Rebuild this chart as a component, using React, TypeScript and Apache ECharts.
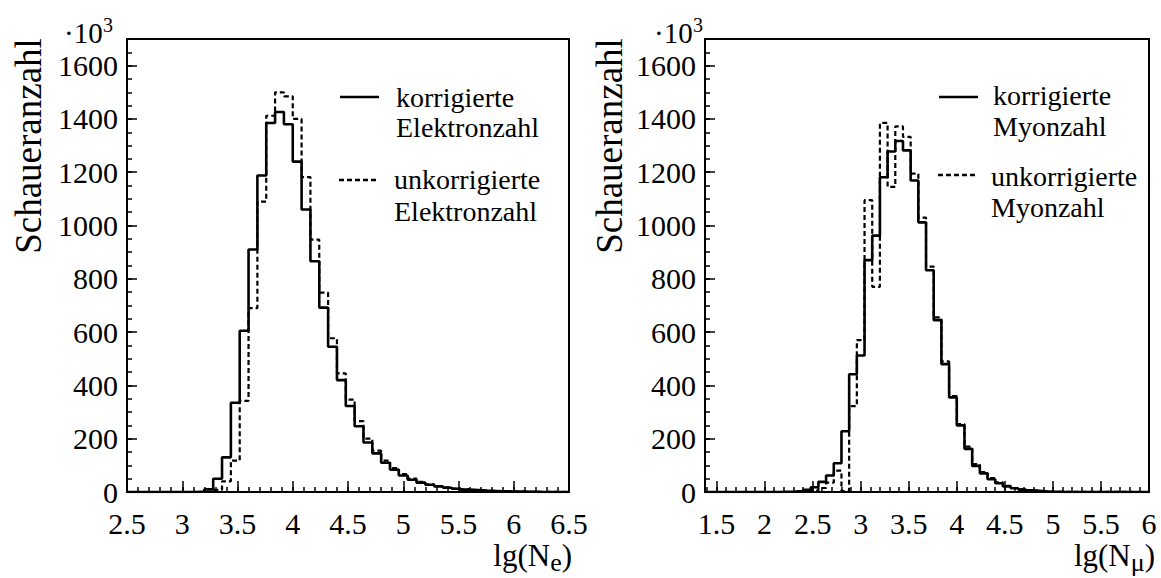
import { useEffect, useRef } from 'react';
import * as echarts from 'echarts';

// ---- data (bin width 0.08 in lg units) ----
const binWidth = 0.08;

// Left panel: lg(Ne), bins starting at 3.12
const leftBinStart = 3.12;
const leftCorrected = [2, 10, 50, 130, 335, 605, 910, 1188, 1385, 1426, 1380, 1240, 1060, 866, 692, 545, 420, 323, 247, 186, 145, 110, 84, 62, 46, 35, 27, 21, 16, 12, 9, 7, 5, 4, 3, 2, 1.5, 1, 0.5];
const leftUncorrected = [0, 2, 8, 40, 118, 342, 690, 1090, 1412, 1500, 1485, 1400, 1182, 947, 748, 577, 445, 347, 266, 200, 155, 118, 90, 67, 50, 38, 29, 22, 17, 13, 10, 7, 5, 4, 3, 2, 1.5, 1, 0.5];

// Right panel: lg(Nmu), bins starting at 2.16
const rightBinStart = 2.16;
const rightCorrected = [1, 2, 4, 8, 18, 38, 62, 108, 228, 442, 512, 870, 962, 1181, 1278, 1317, 1282, 1169, 1012, 832, 645, 480, 355, 250, 162, 98, 70, 48, 33, 21, 14, 9, 6, 4, 2, 1, 0.5];
const rightUncorrected = [0, 0, 1, 2, 5, 15, 35, 80, 3, 322, 570, 1095, 770, 1385, 1145, 1372, 1333, 1195, 1030, 846, 655, 490, 360, 255, 170, 105, 75, 52, 36, 23, 15, 10, 6, 4, 2, 1, 0.5];

const leftXRange = [2.5, 6.5];
const rightXRange = [1.38, 6.0];
const yRange = [0, 1700];
const leftXTicks = [2.5, 3, 3.5, 4, 4.5, 5, 5.5, 6, 6.5];
const rightXTicks = [1.5, 2, 2.5, 3, 3.5, 4, 4.5, 5, 5.5, 6];
const yTicks = [0, 200, 400, 600, 800, 1000, 1200, 1400, 1600];
const xMinorStep = 0.1;
const yMinorStep = 50;

const legendLeft = ['korrigierte', 'Elektronzahl', 'unkorrigierte', 'Elektronzahl'];
const legendRight = ['korrigierte', 'Myonzahl', 'unkorrigierte', 'Myonzahl'];
const yTitle = 'Schaueranzahl';

const FONT = 'Liberation Serif, DejaVu Serif, serif';

function stepPoints(start: number, vals: number[], xmin: number, xmax: number) {
  const pts: number[][] = [[xmin, 0]];
  vals.forEach((v, i) => pts.push([+(start + i * binWidth).toFixed(3), v]));
  pts.push([+(start + vals.length * binWidth).toFixed(3), 0]);
  pts.push([xmax, 0]);
  return pts;
}

function range(a: number, b: number, step: number) {
  const out: number[] = [];
  for (let k = Math.ceil(a / step - 1e-9); k * step <= b + 1e-9; k++) out.push(+(k * step).toFixed(3));
  return out;
}

const plain = (v: number) => String(v);

function xAxes(gi: number, r: number[], majors: number[]) {
  return [
    {
      gridIndex: gi, type: 'value', min: r[0], max: r[1], position: 'bottom',
      axisLine: { show: true, lineStyle: { color: '#000', width: 2 } },
      axisTick: { show: true, inside: true, length: 11, customValues: majors, lineStyle: { color: '#000', width: 1.5 } },
      axisLabel: { show: true, customValues: majors, formatter: plain, color: '#000', fontFamily: FONT, fontSize: 30, margin: 16 },
      splitLine: { show: false },
    },
    {
      gridIndex: gi, type: 'value', min: r[0], max: r[1], position: 'bottom',
      axisLine: { show: false },
      axisTick: { show: true, inside: true, length: 5, customValues: range(r[0], r[1], xMinorStep), lineStyle: { color: '#000', width: 1.5 } },
      axisLabel: { show: false },
      splitLine: { show: false },
    },
  ];
}

function yAxes(gi: number) {
  return [
    {
      gridIndex: gi, type: 'value', min: yRange[0], max: yRange[1], position: 'left',
      axisLine: { show: true, lineStyle: { color: '#000', width: 2 } },
      axisTick: { show: true, inside: true, length: 10, customValues: yTicks, lineStyle: { color: '#000', width: 1.5 } },
      axisLabel: { show: true, customValues: yTicks, formatter: plain, color: '#000', fontFamily: FONT, fontSize: 30, margin: 9 },
      splitLine: { show: false },
    },
    {
      gridIndex: gi, type: 'value', min: yRange[0], max: yRange[1], position: 'left',
      axisLine: { show: false },
      axisTick: { show: true, inside: true, length: 5, customValues: range(yRange[0], yRange[1], yMinorStep), lineStyle: { color: '#000', width: 1.5 } },
      axisLabel: { show: false },
      splitLine: { show: false },
    },
  ];
}

function txt(x: number, y: number, text: string, size: number) {
  return {
    type: 'text', x, y, silent: true,
    style: { text, fill: '#000', fontFamily: FONT, fontSize: size, textAlign: 'left', textVerticalAlign: 'middle' },
  };
}

function panelGraphics(o: any) {
  const g: any[] = [];
  g.push({
    type: 'text', x: o.titleX, y: 146, rotation: Math.PI / 2, silent: true,
    style: { text: yTitle, fill: '#000', fontFamily: FONT, fontSize: 37, textAlign: 'center', textVerticalAlign: 'middle' },
  });
  g.push(txt(o.expX, 32.5, '\u00b710', 29));
  g.push(txt(o.expX + 39, 25, '3', 20));
  g.push({ type: 'line', shape: { x1: o.legLineX, y1: 97, x2: o.legLineX + 39, y2: 97 }, style: { stroke: '#000', lineWidth: 2.5 } });
  g.push({ type: 'line', shape: { x1: o.legLineX - 1, y1: o.dashY, x2: o.legLineX + 38, y2: o.dashY }, style: { stroke: '#000', lineWidth: 2.5, lineDash: [5, 3] } });
  g.push(txt(o.legTextX, o.rows[0], o.legend[0], 28));
  g.push(txt(o.legTextX, o.rows[1], o.legend[1], 28));
  g.push(txt(o.legTextX - 2, o.rows[2], o.legend[2], 28));
  g.push(txt(o.legTextX - 2, o.rows[3], o.legend[3], 28));
  g.push({
    type: 'text', x: o.nameRight, y: 555, silent: true,
    style: {
      text: `{m|lg(N}{s|${o.sub}}{m|)}`, fill: '#000', fontFamily: FONT, textAlign: 'right', textVerticalAlign: 'middle',
      rich: {
        m: { fontSize: 31, fontFamily: FONT, lineHeight: 40, fill: '#000' },
        s: { fontSize: 26, fontFamily: FONT, lineHeight: 22, verticalAlign: 'bottom', fill: '#000' },
      },
    },
  });
  return g;
}

export default function App() {
  const ref = useRef<HTMLDivElement>(null);
  useEffect(() => {
    if (!ref.current) return;
    const chart = echarts.init(ref.current, null, { renderer: 'svg' });
    const grids = [
      { left: 127, top: 39, width: 442, height: 453 },
      { left: 705, top: 39, width: 444, height: 453 },
    ].map((g) => ({ ...g, show: true, borderColor: '#000', borderWidth: 2, backgroundColor: 'transparent' }));

    const xA = [...xAxes(0, leftXRange, leftXTicks), ...xAxes(1, rightXRange, rightXTicks)];
    const yA = [...yAxes(0), ...yAxes(1)];

    const mk = (name: string, data: number[][], xi: number, yi: number, dashed: boolean) => ({
      name, type: 'line', xAxisIndex: xi, yAxisIndex: yi, step: 'end', showSymbol: false, symbol: 'none',
      data, clip: true, z: dashed ? 2 : 3,
      lineStyle: { color: '#000', width: dashed ? 2.2 : 2.6, type: dashed ? [5, 3] : 'solid' },
    });

    const series = [
      mk('unkorrigierte Elektronzahl', stepPoints(leftBinStart, leftUncorrected, leftXRange[0], leftXRange[1]), 0, 0, true),
      mk('korrigierte Elektronzahl', stepPoints(leftBinStart, leftCorrected, leftXRange[0], leftXRange[1]), 0, 0, false),
      mk('unkorrigierte Myonzahl', stepPoints(rightBinStart, rightUncorrected, rightXRange[0], rightXRange[1]), 2, 2, true),
      mk('korrigierte Myonzahl', stepPoints(rightBinStart, rightCorrected, rightXRange[0], rightXRange[1]), 2, 2, false),
    ];

    const graphic = [
      ...panelGraphics({ titleX: 28, expX: 64, legLineX: 340, dashY: 180, legTextX: 396, rows: [97, 127, 179, 211], legend: legendLeft, nameRight: 572, sub: 'e' }),
      ...panelGraphics({ titleX: 609, expX: 654, legLineX: 939, dashY: 175, legTextX: 993, rows: [95, 126, 176, 207], legend: legendRight, nameRight: 1155, sub: '\u03bc' }),
    ];

    chart.setOption({
      animation: false,
      backgroundColor: '#fff',
      grid: grids,
      xAxis: xA,
      yAxis: yA,
      series,
      graphic,
    } as any);
    return () => chart.dispose();
  }, []);
  return <div ref={ref} style={{ position: 'fixed', left: 0, top: 0, width: 1161, height: 578 }} />;
}
